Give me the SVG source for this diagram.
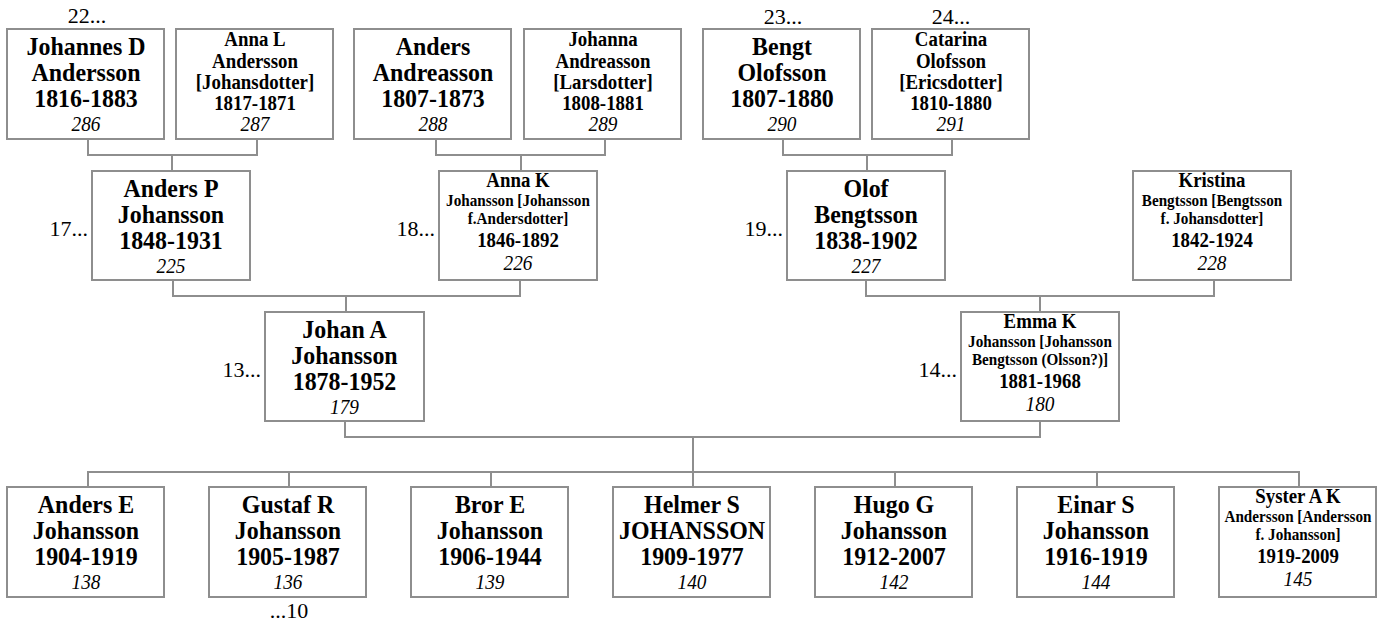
<svg xmlns="http://www.w3.org/2000/svg" width="1390" height="626" viewBox="0 0 1390 626">
<style>
.box{fill:#fff;stroke:#8e8e8e;stroke-width:2}
.ln{fill:none;stroke:#8e8e8e;stroke-width:2}
text{font-family:"Liberation Serif","Times New Roman",serif;fill:#000;text-anchor:middle}
.L{font-size:26px;font-weight:bold}
.M{font-size:20.5px;font-weight:bold}
.S{font-size:16.5px;font-weight:bold}
.N{font-size:21px;font-style:italic}
.lab{font-size:22px}
.end{text-anchor:end}
</style>
<rect width="1390" height="626" fill="#fff"/>
<g id="connectors">
<path class="ln" d="M88 139V155H257V139M172 155V171"/>
<path class="ln" d="M436 139V155H605V139M521 155V171"/>
<path class="ln" d="M783 139V155H952V139M867 155V171"/>
<path class="ln" d="M173 280V296H520V280M346 296V312"/>
<path class="ln" d="M866 280V296H1214V280M1040 296V312"/>
<path class="ln" d="M345 421V437H1040V421M693 437V472"/>
<path class="ln" d="M88 487V472H1299V487M289 472V487M491 472V487M693 472V487M895 472V487M1097 472V487"/>
</g>
<g id="labels">
<text class="lab" x="87" y="23">22...</text>
<text class="lab" x="783" y="24">23...</text>
<text class="lab" x="951" y="24">24...</text>
<text class="lab end" x="88" y="236">17...</text>
<text class="lab end" x="435" y="236">18...</text>
<text class="lab end" x="783" y="236">19...</text>
<text class="lab end" x="261" y="377">13...</text>
<text class="lab end" x="957" y="377">14...</text>
<text class="lab" x="289" y="618">...10</text>
</g>
<g id="n286" transform="translate(7,29)"><rect class="box" width="157" height="110"/><g transform="translate(79 0) scale(.92 1)">
<text class="L" y="26">Johannes D</text><text class="L" y="52">Andersson</text><text class="L" y="78">1816-1883</text><text class="N" y="102">286</text></g></g>
<g id="n287" transform="translate(176,29)"><rect class="box" width="157" height="110"/><g transform="translate(79 0) scale(.92 1)">
<text class="M" y="17">Anna L</text><text class="M" y="39">Andersson</text><text class="M" y="60">[Johansdotter]</text><text class="M" y="81">1817-1871</text><text class="N" y="102">287</text></g></g>
<g id="n288" transform="translate(354,29)"><rect class="box" width="157" height="110"/><g transform="translate(79 0) scale(.92 1)">
<text class="L" y="26">Anders</text><text class="L" y="52">Andreasson</text><text class="L" y="78">1807-1873</text><text class="N" y="102">288</text></g></g>
<g id="n289" transform="translate(524,29)"><rect class="box" width="157" height="110"/><g transform="translate(79 0) scale(.92 1)">
<text class="M" y="17">Johanna</text><text class="M" y="39">Andreasson</text><text class="M" y="60">[Larsdotter]</text><text class="M" y="81">1808-1881</text><text class="N" y="102">289</text></g></g>
<g id="n290" transform="translate(703,29)"><rect class="box" width="157" height="110"/><g transform="translate(79 0) scale(.92 1)">
<text class="L" y="26">Bengt</text><text class="L" y="52">Olofsson</text><text class="L" y="78">1807-1880</text><text class="N" y="102">290</text></g></g>
<g id="n291" transform="translate(872,29)"><rect class="box" width="157" height="110"/><g transform="translate(79 0) scale(.92 1)">
<text class="M" y="17">Catarina</text><text class="M" y="39">Olofsson</text><text class="M" y="60">[Ericsdotter]</text><text class="M" y="81">1810-1880</text><text class="N" y="102">291</text></g></g>
<g id="n225" transform="translate(92,171)"><rect class="box" width="158" height="109"/><g transform="translate(79 0) scale(.92 1)">
<text class="L" y="26">Anders P</text><text class="L" y="52">Johansson</text><text class="L" y="78">1848-1931</text><text class="N" y="102">225</text></g></g>
<g id="n226" transform="translate(439,171)"><rect class="box" width="158" height="109"/><g transform="translate(79 0) scale(.92 1)">
<text class="M" y="16">Anna K</text><text class="S" y="35">Johansson [Johansson</text><text class="S" y="53">f.Andersdotter]</text><text class="M" y="76">1846-1892</text><text class="N" y="99">226</text></g></g>
<g id="n227" transform="translate(787,171)"><rect class="box" width="158" height="109"/><g transform="translate(79 0) scale(.92 1)">
<text class="L" y="26">Olof</text><text class="L" y="52">Bengtsson</text><text class="L" y="78">1838-1902</text><text class="N" y="102">227</text></g></g>
<g id="n228" transform="translate(1133,171)"><rect class="box" width="158" height="109"/><g transform="translate(79 0) scale(.92 1)">
<text class="M" y="16">Kristina</text><text class="S" y="35">Bengtsson [Bengtsson</text><text class="S" y="53">f. Johansdotter]</text><text class="M" y="76">1842-1924</text><text class="N" y="99">228</text></g></g>
<g id="n179" transform="translate(265,312)"><rect class="box" width="159" height="109"/><g transform="translate(79.5 0) scale(.92 1)">
<text class="L" y="26">Johan A</text><text class="L" y="52">Johansson</text><text class="L" y="78">1878-1952</text><text class="N" y="102">179</text></g></g>
<g id="n180" transform="translate(961,312)"><rect class="box" width="158" height="109"/><g transform="translate(79 0) scale(.92 1)">
<text class="M" y="16">Emma K</text><text class="S" y="35">Johansson [Johansson</text><text class="S" y="53">Bengtsson (Olsson?)]</text><text class="M" y="76">1881-1968</text><text class="N" y="99">180</text></g></g>
<g id="n138" transform="translate(7,487)"><rect class="box" width="157" height="110"/><g transform="translate(79 0) scale(.92 1)">
<text class="L" y="26">Anders E</text><text class="L" y="52">Johansson</text><text class="L" y="78">1904-1919</text><text class="N" y="102">138</text></g></g>
<g id="n136" transform="translate(209,487)"><rect class="box" width="157" height="110"/><g transform="translate(79 0) scale(.92 1)">
<text class="L" y="26">Gustaf R</text><text class="L" y="52">Johansson</text><text class="L" y="78">1905-1987</text><text class="N" y="102">136</text></g></g>
<g id="n139" transform="translate(411,487)"><rect class="box" width="157" height="110"/><g transform="translate(79 0) scale(.92 1)">
<text class="L" y="26">Bror E</text><text class="L" y="52">Johansson</text><text class="L" y="78">1906-1944</text><text class="N" y="102">139</text></g></g>
<g id="n140" transform="translate(613,487)"><rect class="box" width="157" height="110"/><g transform="translate(79 0) scale(.92 1)">
<text class="L" y="26">Helmer S</text><text class="L" y="52">JOHANSSON</text><text class="L" y="78">1909-1977</text><text class="N" y="102">140</text></g></g>
<g id="n142" transform="translate(815,487)"><rect class="box" width="157" height="110"/><g transform="translate(79 0) scale(.92 1)">
<text class="L" y="26">Hugo G</text><text class="L" y="52">Johansson</text><text class="L" y="78">1912-2007</text><text class="N" y="102">142</text></g></g>
<g id="n144" transform="translate(1017,487)"><rect class="box" width="157" height="110"/><g transform="translate(79 0) scale(.92 1)">
<text class="L" y="26">Einar S</text><text class="L" y="52">Johansson</text><text class="L" y="78">1916-1919</text><text class="N" y="102">144</text></g></g>
<g id="n145" transform="translate(1219,487)"><rect class="box" width="157" height="110"/><g transform="translate(79 0) scale(.92 1)">
<text class="M" y="16">Syster A K</text><text class="S" y="35">Andersson [Andersson</text><text class="S" y="53">f. Johansson]</text><text class="M" y="76">1919-2009</text><text class="N" y="99">145</text></g></g>
</svg>
